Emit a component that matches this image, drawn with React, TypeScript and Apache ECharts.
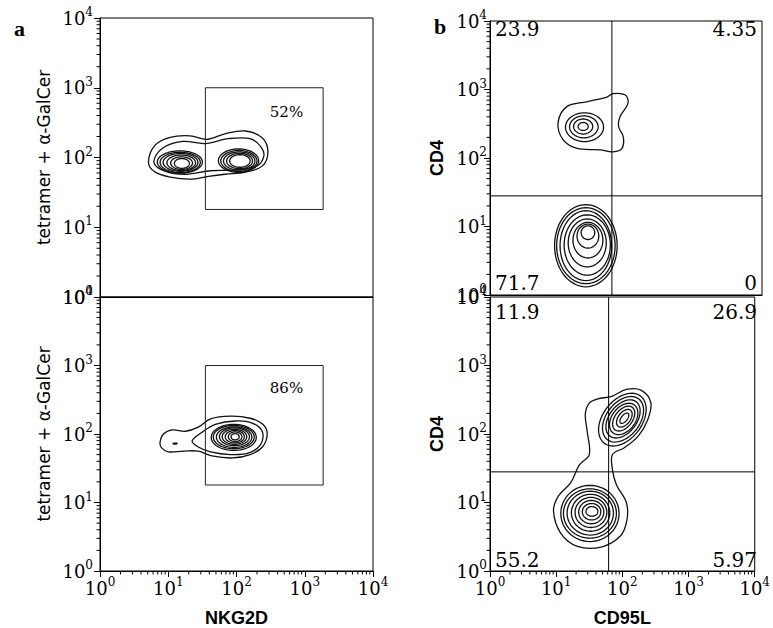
import React, { useEffect, useRef } from "react";
import * as echarts from "echarts";

// ---------- axis structure ----------
const decadeValues = [1, 10, 100, 1000, 10000];
const minorSteps = [2, 3, 4, 5, 6, 7, 8, 9];

const xNames = ["", "NKG2D", "", "CD95L"];
const yNames = ["tetramer + α-GalCer", "tetramer + α-GalCer", "CD4", "CD4"];

// ---------- panel a : NKG2D gate ----------
const gateX = [35, 1860];
const gateY = [18, 1000];
const gatePercents = ["52%", "86%"];
const gateLabelAt = [
  [540, 445],
  [540, 465],
];

// ---------- panel b : quadrants ----------
const cd95lCut = 62;
const cd4Cut = 28;
const quadTop = ["23.9", "4.35", "71.7", "0"];
const quadBottom = ["11.9", "26.9", "55.2", "5.97"];

// ---------- contour lines (log10 units) ----------
// ellipses: [cx, cy, rx, ry, rotationDeg]
const aTopEllipses = [
  [1.2, 1.915, 0.11, 0.07, 0],
  [1.195, 1.92, 0.16, 0.09, 0],
  [1.19, 1.925, 0.21, 0.11, 0],
  [1.18, 1.93, 0.255, 0.128, 0],
  [1.175, 1.93, 0.295, 0.145, 0],
  [1.17, 1.935, 0.33, 0.16, 0],
  [2.05, 1.95, 0.15, 0.09, 0],
  [2.045, 1.95, 0.19, 0.11, 0],
  [2.04, 1.95, 0.23, 0.13, 0],
  [2.035, 1.95, 0.265, 0.15, 0],
  [2.03, 1.955, 0.295, 0.168, 0],
];
const aTopOuter = [
  [0.71, 1.93], [0.81, 2.18], [1.03, 2.29], [1.32, 2.31], [1.57, 2.26],
  [1.83, 2.34], [2.13, 2.38], [2.38, 2.28], [2.46, 2.08], [2.38, 1.88],
  [2.13, 1.79], [1.83, 1.76], [1.59, 1.73], [1.32, 1.69], [1.03, 1.72],
  [0.81, 1.79],
];
const aTopSecond = [
  [0.79, 1.93], [0.91, 2.13], [1.21, 2.23], [1.54, 2.2], [1.88, 2.27],
  [2.2, 2.27], [2.36, 2.15], [2.4, 2.02], [2.3, 1.88], [1.98, 1.82],
  [1.62, 1.81], [1.26, 1.76], [0.96, 1.8],
];

const aBottomEllipses = [
  [1.98, 1.96, 0.06, 0.045, 0],
  [1.98, 1.96, 0.1, 0.07, 0],
  [1.975, 1.96, 0.14, 0.09, 0],
  [1.97, 1.96, 0.18, 0.11, 0],
  [1.97, 1.96, 0.22, 0.13, 0],
  [1.965, 1.955, 0.26, 0.15, 0],
  [1.96, 1.955, 0.3, 0.17, 0],
  [1.96, 1.95, 0.33, 0.19, 0],
  [1.1, 1.86, 0.03, 0.008, 0],
];
const aBottomOuter = [
  [0.88, 1.88], [0.93, 2.0], [1.06, 2.06], [1.25, 2.04], [1.44, 2.1],
  [1.62, 2.22], [1.91, 2.26], [2.2, 2.23], [2.39, 2.14], [2.45, 2.0],
  [2.38, 1.81], [2.2, 1.7], [1.94, 1.65], [1.64, 1.68], [1.44, 1.75],
  [1.22, 1.75], [1.0, 1.74], [0.9, 1.8],
];
const aBottomSecond = [
  [1.35, 1.9], [1.5, 2.03], [1.69, 2.14], [1.98, 2.19], [2.23, 2.16],
  [2.38, 2.03], [2.35, 1.84], [2.17, 1.72], [1.91, 1.7], [1.62, 1.74],
  [1.44, 1.81],
];

const bTopEllipses = [
  [1.37, 2.46, 0.074, 0.058, 0],
  [1.37, 2.46, 0.14, 0.11, 0],
  [1.38, 2.455, 0.21, 0.16, 0],
  [1.39, 2.45, 0.28, 0.21, 0],
  [1.44, 0.91, 0.1, 0.1, 0],
  [1.44, 0.86, 0.16, 0.175, 0],
  [1.44, 0.8, 0.22, 0.26, 0],
  [1.43, 0.76, 0.28, 0.35, 0],
  [1.43, 0.73, 0.34, 0.44, 0],
  [1.41, 0.72, 0.38, 0.51, 0],
  [1.41, 0.72, 0.43, 0.555, 0],
  [1.41, 0.72, 0.46, 0.6, 0],
];
const bTopOuter = [
  [1.0, 2.51], [1.13, 2.75], [1.42, 2.82], [1.72, 2.89], [1.81, 2.94],
  [1.99, 2.92], [2.03, 2.8], [1.91, 2.6], [1.89, 2.46], [1.96, 2.31],
  [1.94, 2.14], [1.81, 2.09], [1.62, 2.12], [1.28, 2.14], [1.08, 2.26],
];

const bBottomEllipses = [
  [2.03, 2.23, 0.09, 0.045, 50],
  [2.03, 2.23, 0.15, 0.09, 50],
  [2.02, 2.225, 0.21, 0.13, 50],
  [2.02, 2.22, 0.26, 0.175, 50],
  [2.01, 2.22, 0.32, 0.205, 50],
  [2.01, 2.215, 0.38, 0.25, 50],
  [2.0, 2.21, 0.44, 0.29, 50],
  [1.54, 0.87, 0.09, 0.07, 0],
  [1.535, 0.865, 0.14, 0.12, 0],
  [1.53, 0.86, 0.19, 0.17, 0],
  [1.525, 0.855, 0.24, 0.22, 0],
  [1.52, 0.85, 0.29, 0.27, 0],
  [1.515, 0.845, 0.35, 0.32, 0],
  [1.51, 0.84, 0.4, 0.36, 0],
  [1.51, 0.84, 0.44, 0.41, 0],
];
const bBottomOuter = [
  [1.62, 2.51], [1.84, 2.55], [2.06, 2.65], [2.28, 2.64], [2.43, 2.46],
  [2.38, 2.2], [2.24, 1.97], [2.03, 1.8], [1.85, 1.7], [1.85, 1.48],
  [1.91, 1.26], [2.06, 1.0], [2.07, 0.75], [1.97, 0.51], [1.68, 0.35],
  [1.32, 0.36], [1.07, 0.55], [0.96, 0.87], [1.03, 1.09], [1.22, 1.29],
  [1.35, 1.55], [1.5, 1.7], [1.47, 2.03], [1.44, 2.29], [1.5, 2.45],
];

// ---------- layout ----------
const grids = [
  { left: 100, top: 18, width: 273, height: 279 },
  { left: 100, top: 297, width: 273, height: 275 },
  { left: 490, top: 21, width: 272, height: 274 },
  { left: 490, top: 297, width: 272, height: 275 },
];

const SERIF = '"DejaVu Serif", "Liberation Serif", serif';

const powLabel = (v: number) => `{b|10}{s|${Math.round(Math.log10(v))}}`;
const powRich = {
  b: { fontFamily: SERIF, fontSize: 18, color: "#000", lineHeight: 24, verticalAlign: "middle" },
  s: { fontFamily: SERIF, fontSize: 12, color: "#000", lineHeight: 12, verticalAlign: "top" },
};

function contourSeries(gi: number, ellipses: number[][], polys: number[][][]) {
  const shapes: any[] = [
    ...ellipses.map((e) => ({ kind: "e", v: e })),
    ...polys.map((p) => ({ kind: "p", v: p })),
  ];
  return {
    type: "custom",
    xAxisIndex: gi,
    yAxisIndex: gi,
    silent: true,
    data: shapes.map((s) =>
      s.kind === "e" ? [10 ** s.v[0], 10 ** s.v[1]] : [10 ** s.v[0][0], 10 ** s.v[0][1]]
    ),
    renderItem: (params: any, api: any) => {
      const s = shapes[params.dataIndex];
      let pts: number[][] = [];
      if (s.kind === "e") {
        const [cx, cy, rx, ry, rot] = s.v;
        const a = (rot * Math.PI) / 180;
        for (let k = 0; k < 64; k++) {
          const t = (k / 64) * Math.PI * 2;
          const lx = rx * Math.cos(t);
          const ly = ry * Math.sin(t);
          const x = cx + lx * Math.cos(a) - ly * Math.sin(a);
          const y = cy + lx * Math.sin(a) + ly * Math.cos(a);
          pts.push(api.coord([10 ** x, 10 ** y]));
        }
      } else {
        pts = s.v.map((p: number[]) => api.coord([10 ** p[0], 10 ** p[1]]));
      }
      return {
        type: "polygon",
        shape: { points: pts, smooth: s.kind === "p" ? 0.35 : 0 },
        style: { fill: "none", stroke: "#111", lineWidth: 1.3 },
      };
    },
  };
}

function minorTickSeries(gi: number, axis: "x" | "y") {
  const vals = decadeValues.slice(0, 4).flatMap((d) => minorSteps.map((m) => d * m));
  return {
    type: "custom",
    xAxisIndex: gi,
    yAxisIndex: gi,
    silent: true,
    clip: false,
    data: vals.map((v) => (axis === "y" ? [1, v] : [v, 1])),
    renderItem: (params: any, api: any) => {
      const v = vals[params.dataIndex];
      const pt = api.coord(axis === "y" ? [1, v] : [v, 1]);
      const shape =
        axis === "y"
          ? { x1: pt[0] - 3.5, y1: pt[1], x2: pt[0], y2: pt[1] }
          : { x1: pt[0], y1: pt[1], x2: pt[0], y2: pt[1] + 3.5 };
      return { type: "line", shape, style: { stroke: "#000", lineWidth: 1 } };
    },
  };
}

function gateSeries(gi: number) {
  const corners = [
    [gateX[0], gateY[1]],
    [gateX[1], gateY[1]],
    [gateX[1], gateY[0]],
    [gateX[0], gateY[0]],
  ];
  return {
    type: "custom",
    xAxisIndex: gi,
    yAxisIndex: gi,
    silent: true,
    data: [corners[0]],
    renderItem: (_p: any, api: any) => ({
      type: "polygon",
      shape: { points: corners.map((c) => api.coord(c)) },
      style: { fill: "none", stroke: "#222", lineWidth: 1 },
    }),
  };
}

function quadrantSeries(gi: number) {
  const lines = [
    [[cd95lCut, 1], [cd95lCut, 10000]],
    [[1, cd4Cut], [10000, cd4Cut]],
  ];
  return {
    type: "custom",
    xAxisIndex: gi,
    yAxisIndex: gi,
    silent: true,
    data: lines.map((l) => l[0]),
    renderItem: (p: any, api: any) => ({
      type: "polyline",
      shape: { points: lines[p.dataIndex].map((c) => api.coord(c)) },
      style: { fill: "none", stroke: "#000", lineWidth: 1 },
    }),
  };
}

function gateLabelSeries(gi: number, k: number) {
  return {
    type: "custom",
    xAxisIndex: gi,
    yAxisIndex: gi,
    silent: true,
    data: [gateLabelAt[k]],
    renderItem: (_p: any, api: any) => {
      const pt = api.coord(gateLabelAt[k]);
      return {
        type: "text",
        x: pt[0],
        y: pt[1],
        style: {
          text: gatePercents[k],
          font: `15px ${SERIF}`,
          fill: "#000",
          align: "center",
          verticalAlign: "middle",
          textAlign: "center",
          textVerticalAlign: "middle",
        },
      };
    },
  };
}

export default function App() {
  const ref = useRef<HTMLDivElement>(null);
  useEffect(() => {
    if (!ref.current) return;
    const chart = echarts.init(ref.current, undefined, { renderer: "svg" });

    const isBottom = (i: number) => i === 1 || i === 3;

    const xAxis = grids.map((_, i) => ({
      type: "log",
      logBase: 10,
      min: 1,
      max: 10000,
      gridIndex: i,
      axisLine: { show: true, lineStyle: { color: "#000", width: 1 } },
      axisTick: { show: isBottom(i), length: 6, lineStyle: { color: "#000" } },
      axisLabel: { show: isBottom(i), formatter: powLabel, rich: powRich, margin: 5 },
      splitLine: { show: false },
      name: xNames[i],
      nameLocation: "middle",
      nameGap: 38,
      nameTextStyle: {
        fontFamily: '"Liberation Sans", Arial, sans-serif',
        fontWeight: "bold",
        fontSize: 18,
        color: "#000",
      },
    }));

    const yAxis = grids.map((_, i) => ({
      type: "log",
      logBase: 10,
      min: 1,
      max: 10000,
      gridIndex: i,
      axisLine: { show: true, lineStyle: { color: "#000", width: 1 } },
      axisTick: { show: true, length: 6, lineStyle: { color: "#000" } },
      axisLabel: { formatter: powLabel, rich: powRich, margin: i < 2 ? 7 : 3 },
      splitLine: { show: false },
      name: yNames[i],
      nameLocation: "middle",
      nameRotate: 90,
      nameGap: i < 2 ? 48 : 44,
      nameTextStyle:
        i < 2
          ? { fontFamily: '"DejaVu Sans", sans-serif', fontSize: 17, color: "#000" }
          : {
              fontFamily: '"Liberation Sans", Arial, sans-serif',
              fontWeight: "bold",
              fontSize: 18,
              color: "#000",
            },
    }));

    const quadFont = `20px ${SERIF}`;
    const quadTexts: any[] = [];
    [
      { g: grids[2], vals: quadTop, topOff: 8, botOff: 12 },
      { g: grids[3], vals: quadBottom, topOff: 15, botOff: 12 },
    ].forEach(({ g, vals, topOff, botOff }) => {
      const L = g.left + 5;
      const R = g.left + g.width - 5;
      const T = g.top + topOff;
      const B = g.top + g.height - botOff;
      const spots = [
        [L, T, "left"],
        [R, T, "right"],
        [L, B, "left"],
        [R, B, "right"],
      ];
      spots.forEach((s, k) => {
        quadTexts.push({
          type: "text",
          x: s[0],
          y: s[1],
          silent: true,
          style: {
            text: vals[k],
            font: quadFont,
            fill: "#000",
            align: s[2],
            verticalAlign: "middle",
            textAlign: s[2],
            textVerticalAlign: "middle",
          },
        });
      });
    });

    const option: any = {
      animation: false,
      backgroundColor: "#fff",
      grid: grids.map((g) => ({
        ...g,
        show: true,
        borderColor: "#000",
        borderWidth: 1,
        backgroundColor: "transparent",
        containLabel: false,
      })),
      xAxis,
      yAxis,
      graphic: [
        {
          type: "text",
          left: 14,
          top: 17,
          style: { text: "a", font: 'bold 22px "Liberation Serif", serif', fill: "#000" },
        },
        {
          type: "text",
          left: 434,
          top: 15,
          style: { text: "b", font: 'bold 22px "Liberation Serif", serif', fill: "#000" },
        },
        ...quadTexts,
      ],
      series: [
        contourSeries(0, aTopEllipses, [aTopOuter, aTopSecond]),
        contourSeries(1, aBottomEllipses, [aBottomOuter, aBottomSecond]),
        contourSeries(2, bTopEllipses, [bTopOuter]),
        contourSeries(3, bBottomEllipses, [bBottomOuter]),
        gateSeries(0),
        gateSeries(1),
        gateLabelSeries(0, 0),
        gateLabelSeries(1, 1),
        quadrantSeries(2),
        quadrantSeries(3),
        minorTickSeries(0, "y"),
        minorTickSeries(1, "y"),
        minorTickSeries(2, "y"),
        minorTickSeries(3, "y"),
        minorTickSeries(1, "x"),
        minorTickSeries(3, "x"),
      ],
    };
    chart.setOption(option);
    return () => chart.dispose();
  }, []);

  return (
    <div
      ref={ref}
      style={{ position: "fixed", left: 0, top: 0, width: 773, height: 628, background: "#fff" }}
    />
  );
}
